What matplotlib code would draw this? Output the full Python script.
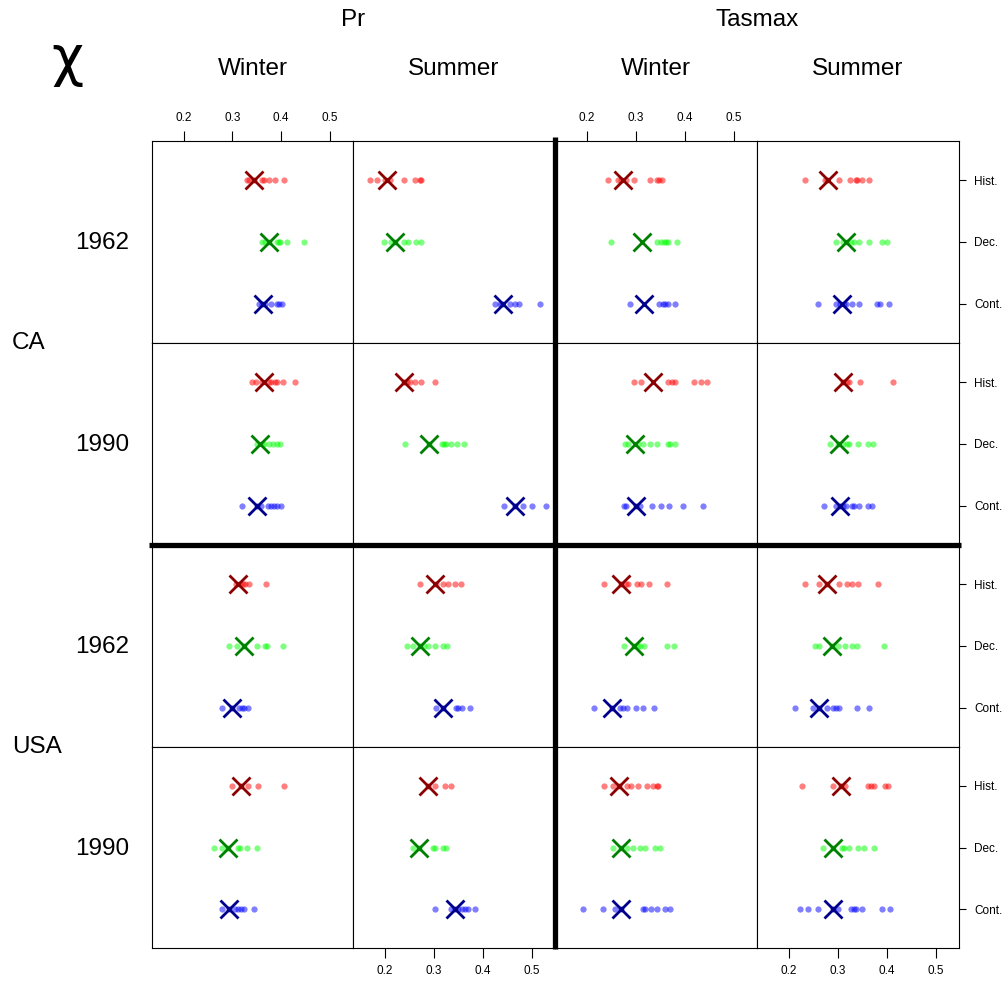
import matplotlib
matplotlib.use("Agg")
import matplotlib.pyplot as plt
from matplotlib.lines import Line2D

plt.rcParams['font.family'] = ['Liberation Sans', 'DejaVu Sans']

# columns: Pr-Winter, Pr-Summer, Tasmax-Winter, Tasmax-Summer
variables = ["Pr", "Tasmax"]
seasons = ["Winter", "Summer"]
regions = ["CA", "USA"]
years = ["1962", "1990"]
members = ["Hist.", "Dec.", "Cont."]

# ---- ensemble values (dots), one list per column ----
ca1962_hist = [[0.33, 0.335, 0.345, 0.36, 0.365, 0.375, 0.387, 0.407],
               [0.169, 0.184, 0.20, 0.21, 0.239, 0.262, 0.272, 0.275],
               [0.244, 0.264, 0.27, 0.28, 0.297, 0.329, 0.343, 0.348, 0.353],
               [0.233, 0.275, 0.279, 0.302, 0.326, 0.338, 0.340, 0.350, 0.365]]
ca1962_dec = [[0.361, 0.368, 0.375, 0.392, 0.396, 0.399, 0.413, 0.448],
              [0.199, 0.213, 0.22, 0.240, 0.247, 0.263, 0.275],
              [0.249, 0.343, 0.352, 0.357, 0.362, 0.367, 0.385],
              [0.297, 0.31, 0.32, 0.327, 0.333, 0.343, 0.365, 0.391, 0.401]]
ca1962_cont = [[0.355, 0.36, 0.368, 0.379, 0.391, 0.395, 0.403],
               [0.425, 0.436, 0.44, 0.456, 0.466, 0.475, 0.518],
               [0.288, 0.348, 0.355, 0.360, 0.367, 0.381],
               [0.260, 0.297, 0.305, 0.312, 0.317, 0.329, 0.343, 0.381, 0.386, 0.405]]
ca1962_x = [[0.344, 0.375, 0.364], [0.205, 0.220, 0.442],
            [0.275, 0.312, 0.316], [0.281, 0.316, 0.309]]

ca1990_hist = [[0.341, 0.348, 0.36, 0.375, 0.380, 0.387, 0.392, 0.405, 0.428],
               [0.24, 0.245, 0.251, 0.261, 0.275, 0.302],
               [0.297, 0.311, 0.367, 0.374, 0.380, 0.420, 0.434, 0.446],
               [0.310, 0.318, 0.324, 0.346, 0.414]]
ca1990_dec = [[0.350, 0.360, 0.365, 0.375, 0.384, 0.391, 0.399],
              [0.242, 0.290, 0.316, 0.321, 0.326, 0.336, 0.348, 0.361],
              [0.279, 0.284, 0.305, 0.314, 0.329, 0.343, 0.366, 0.371, 0.381],
              [0.284, 0.300, 0.310, 0.318, 0.324, 0.342, 0.362, 0.372]]
ca1990_cont = [[0.320, 0.350, 0.358, 0.373, 0.380, 0.386, 0.392, 0.401],
               [0.444, 0.466, 0.483, 0.500, 0.529],
               [0.276, 0.280, 0.300, 0.309, 0.333, 0.352, 0.368, 0.396, 0.438],
               [0.273, 0.297, 0.304, 0.310, 0.317, 0.330, 0.334, 0.343, 0.362, 0.370]]
ca1990_x = [[0.366, 0.357, 0.350], [0.239, 0.290, 0.466],
            [0.335, 0.299, 0.300], [0.310, 0.303, 0.304]]

usa1962_hist = [[0.307, 0.315, 0.322, 0.327, 0.334, 0.370],
                [0.273, 0.305, 0.319, 0.329, 0.343, 0.355],
                [0.235, 0.269, 0.280, 0.285, 0.302, 0.311, 0.328, 0.364],
                [0.233, 0.262, 0.279, 0.303, 0.319, 0.329, 0.342, 0.382]]
usa1962_dec = [[0.293, 0.309, 0.324, 0.351, 0.368, 0.372, 0.404],
               [0.245, 0.257, 0.273, 0.280, 0.288, 0.303, 0.319, 0.328],
               [0.277, 0.297, 0.305, 0.309, 0.316, 0.364, 0.379],
               [0.253, 0.262, 0.288, 0.301, 0.315, 0.329, 0.340, 0.394]]
usa1962_cont = [[0.279, 0.299, 0.314, 0.320, 0.324, 0.332],
                [0.305, 0.319, 0.345, 0.350, 0.357, 0.374],
                [0.215, 0.251, 0.268, 0.275, 0.282, 0.300, 0.315, 0.337],
                [0.213, 0.249, 0.261, 0.279, 0.291, 0.297, 0.302, 0.339, 0.363]]
usa1962_x = [[0.312, 0.324, 0.299], [0.302, 0.273, 0.319],
             [0.269, 0.297, 0.251], [0.279, 0.288, 0.261]]

usa1990_hist = [[0.299, 0.318, 0.332, 0.353, 0.407],
                [0.288, 0.303, 0.323, 0.336],
                [0.236, 0.254, 0.266, 0.282, 0.290, 0.305, 0.323, 0.336, 0.343, 0.346],
                [0.228, 0.290, 0.307, 0.314, 0.362, 0.368, 0.375, 0.396, 0.403]]
usa1990_dec = [[0.262, 0.279, 0.291, 0.311, 0.315, 0.331, 0.350],
               [0.257, 0.270, 0.299, 0.303, 0.319, 0.326],
               [0.254, 0.269, 0.282, 0.295, 0.309, 0.318, 0.340, 0.350],
               [0.269, 0.290, 0.309, 0.313, 0.323, 0.341, 0.353, 0.375]]
usa1990_cont = [[0.278, 0.293, 0.305, 0.311, 0.318, 0.324, 0.344],
                [0.302, 0.336, 0.344, 0.350, 0.357, 0.363, 0.370, 0.385],
                [0.192, 0.233, 0.257, 0.269, 0.314, 0.320, 0.332, 0.343, 0.360, 0.370],
                [0.223, 0.240, 0.259, 0.290, 0.300, 0.327, 0.333, 0.338, 0.350, 0.391, 0.407]]
usa1990_x = [[0.318, 0.291, 0.293], [0.288, 0.270, 0.344],
             [0.266, 0.269, 0.269], [0.307, 0.290, 0.290]]

rows = [(ca1962_hist, ca1962_dec, ca1962_cont, ca1962_x),
        (ca1990_hist, ca1990_dec, ca1990_cont, ca1990_x),
        (usa1962_hist, usa1962_dec, usa1962_cont, usa1962_x),
        (usa1990_hist, usa1990_dec, usa1990_cont, usa1990_x)]

dot_colors = ['#FF0000', '#00FF00', '#0000FF']
x_colors = ['#8B0000', '#008000', '#00008B']
xticks = [0.2, 0.3, 0.4, 0.5]

W, H = 1008, 985
col_edges = [152, 353, 555, 757, 959]
row_edges = [141, 343, 545, 747, 948]

fig = plt.figure(figsize=(W / 100, H / 100), dpi=100)

for i, (hist, dec, cont, xs) in enumerate(rows):
    for j in range(4):
        x0, x1 = col_edges[j], col_edges[j + 1]
        y0, y1 = row_edges[i], row_edges[i + 1]
        ax = fig.add_axes([x0 / W, 1 - y1 / H, (x1 - x0) / W, (y1 - y0) / H])
        for k, vals in enumerate([hist[j], dec[j], cont[j]]):
            ax.plot(vals, [k + 1] * len(vals), 'o', color=dot_colors[k],
                    alpha=0.5, markersize=4.5, markeredgewidth=0)
            ax.plot(xs[j][k], k + 1, 'x', color=x_colors[k],
                    markersize=13, markeredgewidth=2)
        ax.set_xlim(0.135, 0.548)
        ax.set_ylim(3.63, 0.37)
        for s in ax.spines.values():
            s.set_linewidth(0.8)
        ax.set_xticks(xticks)
        ax.set_xticklabels([f"{t:.1f}" for t in xticks])
        ax.tick_params(axis='x', labelsize=8.5, length=7, width=0.8, pad=5)
        if i == 0 and j in (0, 2):
            ax.tick_params(axis='x', bottom=False, labelbottom=False,
                           top=True, labeltop=True)
        elif i == 3 and j in (1, 3):
            ax.tick_params(axis='x', bottom=True, labelbottom=True)
        else:
            ax.tick_params(axis='x', bottom=False, labelbottom=False)
        if j == 3:
            ax.set_yticks([1, 2, 3])
            ax.set_yticklabels(members)
            ax.tick_params(axis='y', left=False, labelleft=False, right=True,
                           labelright=True, labelsize=8.5, length=5,
                           width=0.8, pad=6)
        else:
            ax.set_yticks([])

# heavy separators between variables and regions
fig.add_artist(Line2D([555 / W, 555 / W], [1 - 137 / H, 1 - 949 / H],
                      color='black', linewidth=3.8, solid_capstyle='butt'))
fig.add_artist(Line2D([149 / W, 961 / W], [1 - 545 / H, 1 - 545 / H],
                      color='black', linewidth=3.8, solid_capstyle='butt'))

# strip labels
big = 17.5
for v, x in zip(variables, [353, 757]):
    fig.text(x / W, 1 - 20 / H, v, ha='center', va='center', fontsize=big)
for s, x in zip(seasons * 2, [253, 454, 656, 858]):
    fig.text(x / W, 1 - 69 / H, s, ha='center', va='center', fontsize=big)
for k, y in enumerate([243, 445, 647, 849]):
    fig.text(102 / W, 1 - y / H, years[k % 2], ha='center', va='center',
             fontsize=big)
fig.text(12 / W, 1 - 343 / H, regions[0], ha='left', va='center', fontsize=big)
fig.text(12 / W, 1 - 747 / H, regions[1], ha='left', va='center', fontsize=big)
fig.text(67 / W, 1 - 60 / H, 'χ', ha='center', va='center', fontsize=40,
         family=['DejaVu Sans'])

fig.savefig('out.png', dpi=100)
